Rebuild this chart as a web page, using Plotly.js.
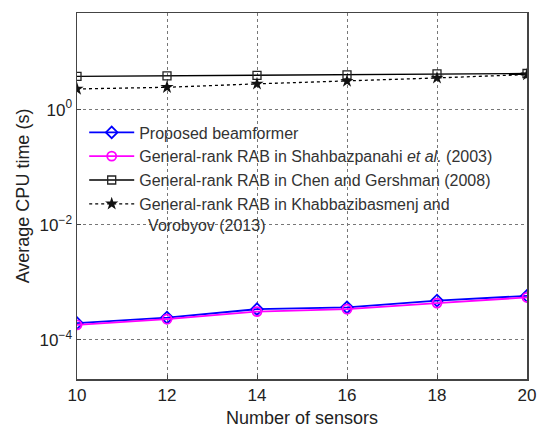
<!DOCTYPE html>
<html><head><meta charset="utf-8">
<script src="https://cdn.plot.ly/plotly-3.0.1.min.js"></script>
<style>html,body{margin:0;padding:0;background:#fff}#chart{width:538px;height:428px}</style>
</head><body><div id="chart"></div>
<script>
const sensors = [10, 12, 14, 16, 18, 20];
const proposed = [1.95e-4, 2.44e-4, 3.42e-4, 3.67e-4, 4.82e-4, 5.82e-4];
const shahbazpanahi = [1.82e-4, 2.29e-4, 3.10e-4, 3.42e-4, 4.35e-4, 5.46e-4];
const chenGershman = [3.79, 3.86, 3.94, 4.01, 4.18, 4.25];
const khabbazi = [2.29, 2.45, 2.81, 3.14, 3.56, 4.08];
const yTickVals = [1e-4, 1e-2, 1];
const yTickText = ['10<sup>−4</sup>', '10<sup>−2</sup>', '10<sup>0</sup>'];
const xTickVals = [10, 12, 14, 16, 18, 20];
const names = ['Proposed beamformer',
  'General-rank RAB in Shahbazpanahi <i>et al.</i> (2003)',
  'General-rank RAB in Chen and Gershman (2008)',
  'General-rank RAB in Khabbazibasmenj and<br>&nbsp;&nbsp;Vorobyov (2013)'];

const traces = [
  {x: sensors, y: proposed, name: names[0], mode: 'lines+markers',
   line: {color: '#0000ff', width: 1.8},
   marker: {symbol: 'diamond-open', size: 9, color: '#0000ff', line: {width: 1.8}}},
  {x: sensors, y: shahbazpanahi, name: names[1], mode: 'lines+markers',
   line: {color: '#ff00ff', width: 1.8},
   marker: {symbol: 'circle-open', size: 9, color: '#ff00ff', line: {width: 1.8}}},
  {x: sensors, y: chenGershman, name: names[2], mode: 'lines+markers',
   line: {color: '#000000', width: 1.3},
   marker: {symbol: 'square-open', size: 8, color: '#222', line: {width: 1.3}}},
  {x: sensors, y: khabbazi, name: names[3], mode: 'lines+markers',
   line: {color: '#000000', width: 1.3, dash: 'dot'},
   marker: {symbol: 'star', size: 10, color: '#111'}}
];

const layout = {
  width: 538, height: 428,
  margin: {l: 77, r: 11, t: 13, b: 49},
  paper_bgcolor: '#fff', plot_bgcolor: '#fff',
  font: {family: 'Liberation Sans, Arial, sans-serif', color: '#222'},
  showlegend: true,
  legend: {x: 0.016, y: 0.72, xanchor: 'left', yanchor: 'top', valign: 'top',
    bgcolor: 'rgba(0,0,0,0)', borderwidth: 0,
    font: {size: 16, color: '#333'}, tracegroupgap: 0, itemwidth: 45},
  xaxis: {
    range: [10, 20], tickmode: 'array', tickvals: xTickVals,
    showgrid: true, gridcolor: '#777', griddash: 'dot', gridwidth: 1,
    showline: true, linecolor: '#444', linewidth: 1.5, mirror: true,
    ticks: 'inside', ticklen: 4, tickcolor: '#444',
    tickfont: {size: 17, color: '#222'}, zeroline: false,
    title: {text: 'Number of sensors', font: {size: 18, color: '#222'}, standoff: 11}
  },
  yaxis: {
    type: 'log', range: [-4.68, 1.68], tickmode: 'array',
    tickvals: yTickVals, ticktext: yTickText,
    showgrid: true, gridcolor: '#777', griddash: 'dot', gridwidth: 1,
    showline: true, linecolor: '#444', linewidth: 1.5, mirror: true,
    ticks: 'inside', ticklen: 4, tickcolor: '#444',
    tickfont: {size: 17, color: '#222'}, zeroline: false,
    title: {text: 'Average CPU time (s)', font: {size: 18, color: '#222'}, standoff: 5}
  }
};
Plotly.newPlot('chart', traces, layout, {displayModeBar: false, staticPlot: true});
</script></body></html>
